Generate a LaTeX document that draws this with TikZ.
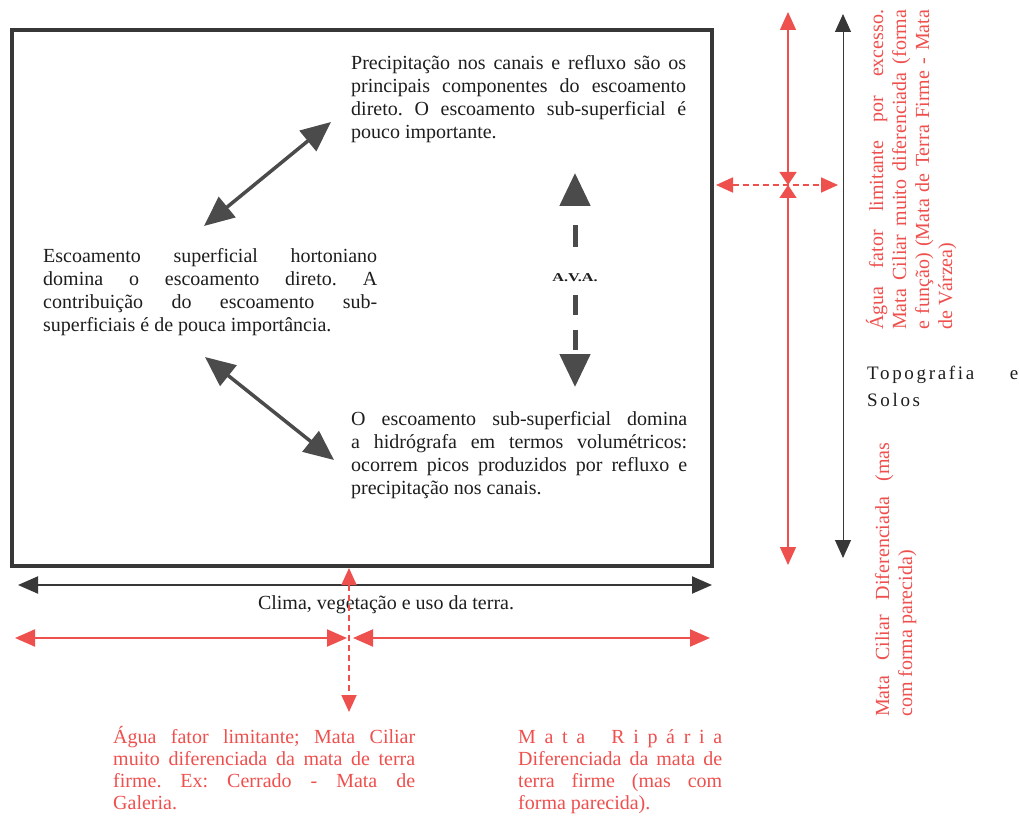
\documentclass[tikz,border=0pt]{standalone}
\usepackage{fontspec}
\setmainfont{Liberation Serif}
\newfontfamily\spaced[LetterSpace=14]{Liberation Serif}
\usetikzlibrary{arrows.meta}
\frenchspacing
\definecolor{rd}{RGB}{238,80,78}
\definecolor{dk}{RGB}{55,55,55}
\definecolor{ag}{RGB}{75,75,75}
\definecolor{tx}{RGB}{30,30,30}
\tikzset{
  txt/.style={anchor=base west, inner sep=0pt, align=justify, text=tx, font=\frenchspacing\fontsize{20}{23}\selectfont},
  rtxt/.style={txt, text=rd},
  bigarrow/.style={draw=ag, line width=3.5pt, {Triangle[length=30pt,width=26pt]}-{Triangle[length=30pt,width=26pt]}},
  avaline/.style={draw=ag, line width=5pt, -{Triangle[length=33pt,width=30pt]}},
  redbow/.style={draw=rd, line width=1.4pt, {Triangle[length=13pt,width=17pt]}-{Triangle[length=18pt,width=16pt]}},
  blkarr/.style={draw=dk, line width=1pt, {Triangle[length=18pt,width=16pt]}-{Triangle[length=18pt,width=16pt]}},
  reddash/.style={draw=rd, line width=1.8pt, dash pattern=on 6pt off 4pt, {Triangle[length=17pt,width=15pt]}-{Triangle[length=17pt,width=15pt]}},
  redh/.style={draw=rd, line width=2pt, {Triangle[length=20pt,width=17pt]}-{Triangle[length=20pt,width=17pt]}},
  blkh/.style={draw=dk, line width=2pt, {Triangle[length=20pt,width=17pt]}-{Triangle[length=20pt,width=17pt]}},
}
\begin{document}
\begin{tikzpicture}[x=1pt,y=-1pt]
\useasboundingbox[fill=white] (0,0) rectangle (1019,818);

% main box
\node[draw=dk, line width=4.5pt, minimum width=700pt, minimum height=536pt, inner sep=0pt, outer sep=0pt, anchor=north west] (box) at (12,30) {};

% texts inside the box
\node[txt, text width=335pt] (top) at (351,70) {Precipitação nos canais e refluxo são os\linebreak principais componentes do escoamento\linebreak direto. O escoamento sub-superficial é\linebreak pouco importante.};
\node[txt, text width=334pt] (left) at (43,262) {Escoamento superficial hortoniano\linebreak domina o escoamento direto. A\linebreak contribuição do escoamento sub-\linebreak superficiais é de pouca importância.};
\node[txt, text width=336pt] (bot) at (351,425) {O escoamento sub-superficial domina\linebreak a hidrógrafa em termos volumétricos:\linebreak ocorrem picos produzidos por refluxo e\linebreak precipitação nos canais.};

% double arrows
\coordinate (a1s) at (204,226);
\coordinate (a1e) at (331,122);
\draw[bigarrow] (a1s) -- (a1e);
\coordinate (a2s) at (205,357);
\coordinate (a2e) at (334,460);
\draw[bigarrow] (a2s) -- (a2e);

% A.V.A.
\node[inner sep=0pt, text=tx, font=\bfseries\fontsize{12}{14}\selectfont] (ava) at (575,278) {\scalebox{1.35}[1]{A.V.A.}};
\coordinate (avat) at (575,173);
\coordinate (avab) at (575,387);
\draw[avaline, dash pattern=on 22pt off 27pt, dash phase=22pt] (ava.north) -- (avat);
\draw[avaline, dash pattern=on 20pt off 15pt, dash phase=22pt] (ava.south) -- (avab);

% right side arrows
\coordinate (rt) at (788,12);
\coordinate (rm) at (788,185);
\coordinate (rb) at (788,565);
\draw[redbow] (rm) -- (rt);
\draw[redbow] (rm) -- (rb);
\coordinate (kt) at (843,14);
\coordinate (kb) at (843,558);
\draw[blkarr] (kt) -- (kb);
\coordinate (hl) at (716,185);
\coordinate (hr) at (838,185);
\draw[reddash] (hl) -- (hr);

% right side texts
\node[rtxt, rotate=90, text width=320pt] (rtop) at (883,330) {Água fator limitante por excesso.\linebreak Mata Ciliar muito diferenciada (forma\linebreak e função) (Mata de Terra Firme - Mata\linebreak de Várzea)};
\node[rtxt, rotate=90, text width=274pt] (rbot) at (889,717) {Mata Ciliar Diferenciada (mas\linebreak com forma parecida)};
\node[txt, text width=151pt, font=\spaced\fontsize{19}{27}\selectfont] (topo) at (867,379) {Topografia e\linebreak Solos};

% bottom arrows
\coordinate (kl) at (18,585);
\coordinate (kr) at (712,585);
\draw[blkh] (kl) -- (kr);
\node[anchor=base, inner sep=0pt, text=tx, font=\fontsize{20}{23}\selectfont] (clima) at (386,609) {Clima, vegetação e uso da terra.};
\coordinate (hl1) at (15,638);
\coordinate (hc1) at (347,638);
\coordinate (hc2) at (353,638);
\coordinate (hr2) at (710,638);
\draw[redh] (hl1) -- (hc1);
\draw[redh] (hc2) -- (hr2);
\coordinate (vt) at (349,568);
\coordinate (vb) at (349,712);
\draw[reddash] (vt) -- (vb);

% bottom texts
\node[rtxt, text width=302pt, font=\frenchspacing\fontsize{20}{22}\selectfont] (bl) at (113,743) {Água fator limitante; Mata Ciliar\linebreak muito diferenciada da mata de terra\linebreak firme. Ex: Cerrado - Mata de\linebreak Galeria.};
\node[rtxt, text width=204pt, font=\frenchspacing\fontsize{20}{22}\selectfont] (br) at (518,743) {\makebox[204pt][s]{M\hfill a\hfill t\hfill a\hfill\hfill\hfill R\hfill i\hfill p\hfill á\hfill r\hfill i\hfill a}\linebreak Diferenciada da mata de\linebreak terra firme (mas com\linebreak forma parecida).};
\end{tikzpicture}
\end{document}
